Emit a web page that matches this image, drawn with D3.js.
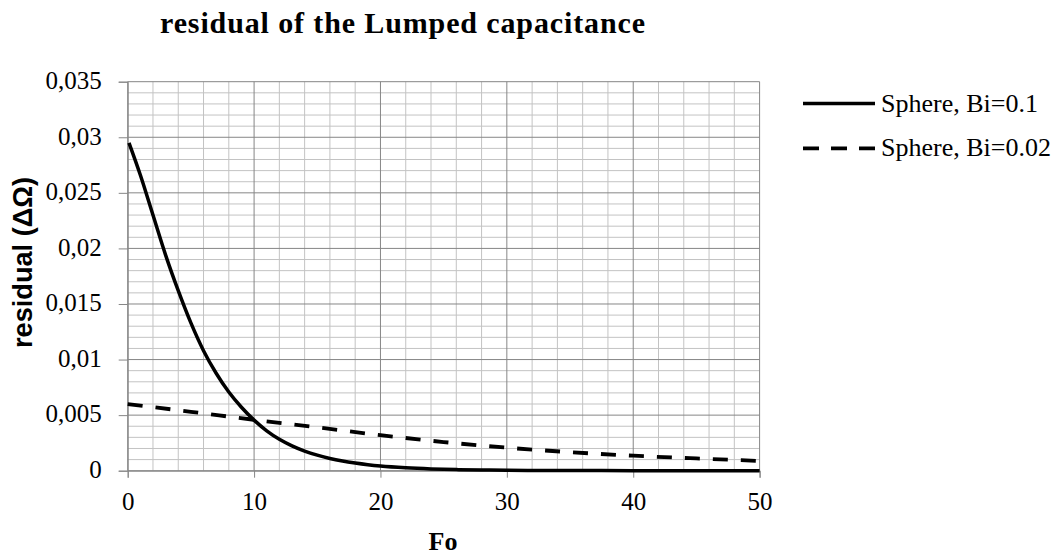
<!DOCTYPE html>
<html>
<head>
<meta charset="utf-8">
<script src="https://cdn.jsdelivr.net/npm/d3@7"></script>
<style>
  html, body { margin: 0; padding: 0; background: #ffffff; }
  svg { display: block; }
</style>
</head>
<body>
<svg id="chart" width="1059" height="556"></svg>
<script>
// ---- data ----
const chartTitle = "residual of the Lumped capacitance";
const xTitle = "Fo";
const yTitle = "residual (ΔΩ)";
const seriesNames = ["Sphere, Bi=0.1", "Sphere, Bi=0.02"];

const foBi01 = [0.1, 1, 2, 3, 4, 5, 6, 7, 8, 9, 10, 11, 12, 13, 14, 15, 16, 17, 18, 19, 20, 22, 24, 26, 28, 30, 35, 40, 45, 50];
const residualBi01 = [0.0295, 0.0266, 0.0230, 0.0194, 0.0162, 0.0133, 0.0108, 0.00877, 0.00708, 0.00571, 0.00455, 0.00359, 0.00283, 0.00224, 0.00177, 0.0014, 0.0011, 0.00087, 0.00069, 0.00054, 0.00042, 0.00026, 0.00016, 0.0001, 0.00006, 0.00004, 0.00001, 0.000005, 0.000002, 0.000001];

const foBi002 = [0, 5, 10, 15, 20, 25, 30, 35, 40, 45, 50];
const residualBi002 = [0.0060, 0.0053, 0.00458, 0.0039, 0.0032, 0.00258, 0.00207, 0.00167, 0.00135, 0.0011, 0.00088];

const xTickValues = [0, 10, 20, 30, 40, 50];
const yTickValues = [0, 0.005, 0.01, 0.015, 0.02, 0.025, 0.03, 0.035];
const yTickLabels = ["0", "0,005", "0,01", "0,015", "0,02", "0,025", "0,03", "0,035"];
const xMinorValues = [2, 4, 6, 8, 12, 14, 16, 18, 22, 24, 26, 28, 32, 34, 36, 38, 42, 44, 46, 48];
const yMinorValues = [0.001, 0.002, 0.003, 0.004, 0.006, 0.007, 0.008, 0.009, 0.011, 0.012, 0.013, 0.014,
  0.016, 0.017, 0.018, 0.019, 0.021, 0.022, 0.023, 0.024, 0.026, 0.027, 0.028, 0.029, 0.031, 0.032, 0.033, 0.034];

// ---- layout ----
const svg = d3.select("#chart");
const plotLeft = 127.7, plotRight = 759.6, plotTop = 81.7, plotBottom = 470.7;
const x = d3.scaleLinear().domain([0, 50]).range([plotLeft, plotRight]);
const y = d3.scaleLinear().domain([0, 0.035]).range([plotBottom, plotTop]);

const serif = "'Liberation Serif', 'Times New Roman', serif";
const majorColor = "#868686";
const minorColor = "#c3c3c3";

// minor grid
const grid = svg.append("g");
grid.selectAll("line.vmin").data(xMinorValues).enter().append("line")
  .attr("x1", d => x(d)).attr("x2", d => x(d)).attr("y1", plotTop).attr("y2", plotBottom)
  .attr("stroke", minorColor).attr("stroke-width", 1);
grid.selectAll("line.hmin").data(yMinorValues).enter().append("line")
  .attr("x1", plotLeft).attr("x2", plotRight).attr("y1", d => y(d)).attr("y2", d => y(d))
  .attr("stroke", minorColor).attr("stroke-width", 1);
// major grid
grid.selectAll("line.vmaj").data(xTickValues).enter().append("line")
  .attr("x1", d => x(d)).attr("x2", d => x(d)).attr("y1", plotTop).attr("y2", plotBottom)
  .attr("stroke", majorColor).attr("stroke-width", 1);
grid.selectAll("line.hmaj").data(yTickValues).enter().append("line")
  .attr("x1", plotLeft).attr("x2", plotRight).attr("y1", d => y(d)).attr("y2", d => y(d))
  .attr("stroke", majorColor).attr("stroke-width", 1);

// axes
const yAxis = d3.axisLeft(y).tickValues(yTickValues).tickSize(9).tickPadding(17)
  .tickFormat((d, i) => yTickLabels[i]);
const gy = svg.append("g").attr("transform", `translate(${plotLeft},0)`).call(yAxis);
gy.select(".domain").attr("stroke", majorColor);
gy.selectAll(".tick line").attr("stroke", majorColor);
gy.selectAll(".tick text").attr("font-family", serif).attr("font-size", 25).attr("fill", "#000").attr("dy", "0.27em");

const xAxis = d3.axisBottom(x).tickValues(xTickValues).tickSize(7).tickPadding(14.5);
const gx = svg.append("g").attr("transform", `translate(0,${plotBottom})`).call(xAxis);
gx.select(".domain").attr("stroke", majorColor);
gx.selectAll(".tick line").attr("stroke", majorColor);
gx.selectAll(".tick text").attr("font-family", serif).attr("font-size", 25).attr("fill", "#000");

// series
const line = d3.line().x(d => x(d[0])).y(d => y(d[1])).curve(d3.curveMonotoneX);
const dataBi01 = foBi01.map((f, i) => [f, residualBi01[i]]);
const dataBi002 = foBi002.map((f, i) => [f, residualBi002[i]]);

svg.append("path").datum(dataBi002).attr("d", line)
  .attr("fill", "none").attr("stroke", "#000").attr("stroke-width", 3.8)
  .attr("stroke-dasharray", "15,13");
svg.append("path").datum(dataBi01).attr("d", line)
  .attr("fill", "none").attr("stroke", "#000").attr("stroke-width", 3.5)
  .attr("stroke-linejoin", "round");

// title
svg.append("text").attr("x", 160).attr("y", 32.7)
  .attr("font-family", serif).attr("font-weight", "bold").attr("font-size", 30)
  .attr("textLength", 485).attr("lengthAdjust", "spacing")
  .text(chartTitle);

// axis titles
svg.append("text").attr("x", 443).attr("y", 550).attr("text-anchor", "middle")
  .attr("font-family", serif).attr("font-weight", "bold").attr("font-size", 26)
  .text(xTitle);
svg.append("text").attr("transform", "translate(32,262.5) rotate(-90)")
  .attr("text-anchor", "middle")
  .attr("font-family", "'Liberation Sans', Arial, sans-serif").attr("font-weight", "bold").attr("font-size", 27)
  .attr("textLength", 171).attr("lengthAdjust", "spacingAndGlyphs")
  .text(yTitle);

// legend
const legendRows = [
  { name: seriesNames[0], dash: null, w: 3.5, yy: 103.5 },
  { name: seriesNames[1], dash: "16,12", w: 3.8, yy: 148.3 }
];
const lg = svg.append("g");
legendRows.forEach(r => {
  lg.append("line").attr("x1", 803).attr("x2", 875).attr("y1", r.yy).attr("y2", r.yy)
    .attr("stroke", "#000").attr("stroke-width", r.w)
    .attr("stroke-dasharray", r.dash);
  lg.append("text").attr("x", 881).attr("y", r.yy + 8)
    .attr("font-family", serif).attr("font-size", 26).attr("fill", "#000")
    .text(r.name);
});
</script>
</body>
</html>
